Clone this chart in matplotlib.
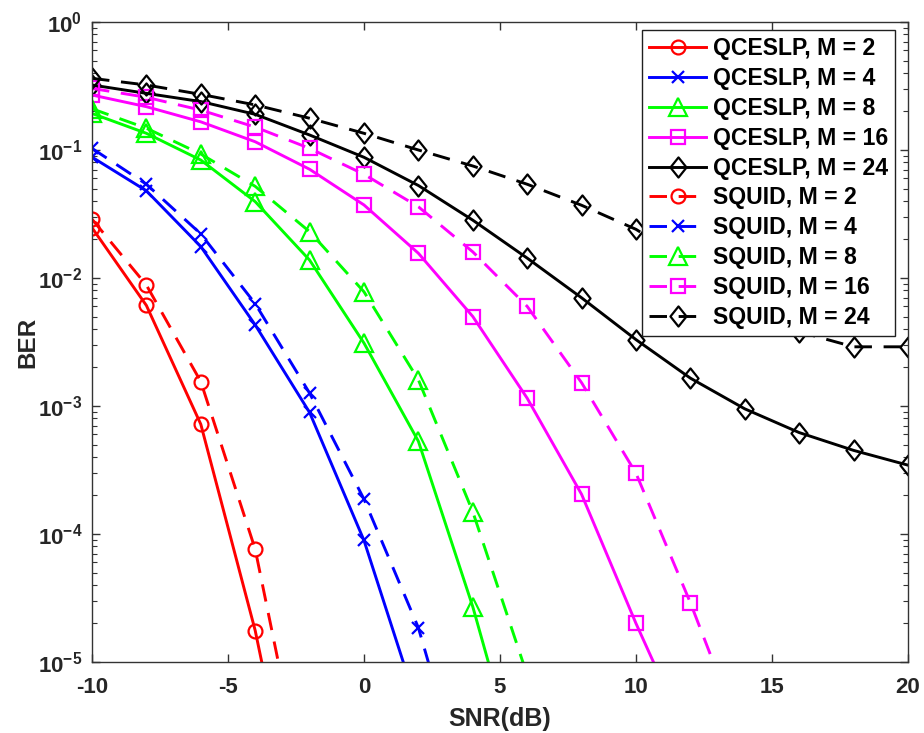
import numpy as np
import matplotlib
matplotlib.use('Agg')
import matplotlib.pyplot as plt
from matplotlib.path import Path

plt.rcParams['font.family'] = 'Liberation Sans'
plt.rcParams['font.weight'] = 'bold'
plt.rcParams['mathtext.fontset'] = 'custom'
plt.rcParams['mathtext.bf'] = 'Liberation Sans:bold'
plt.rcParams['mathtext.rm'] = 'Liberation Sans:bold'
plt.rcParams['axes.unicode_minus'] = False

# SNR grid (dB)
snr = np.arange(-10, 21, 2)

# BER of QCESLP (solid)
qc_m2 = [0.0247, 0.0061, 7.2e-4, 1.76e-5, 1.6e-7]
qc_m4 = [0.088, 0.048, 0.0176, 0.0043, 8.9e-4, 8.9e-5, 4.3e-6]
qc_m8 = [0.193, 0.135, 0.0835, 0.0395, 0.0138, 0.0031, 5.3e-4, 2.7e-5, 8.3e-7]
qc_m16 = [0.269, 0.218, 0.166, 0.116, 0.0707, 0.0372, 0.0156, 0.005, 0.00115,
          2.04e-4, 2.0e-5, 2.3e-6]
qc_m24 = [0.322, 0.277, 0.239, 0.19, 0.131, 0.0877, 0.0528, 0.0283, 0.0143,
          0.0070, 0.0033, 0.00165, 9.5e-4, 6.2e-4, 4.5e-4, 3.45e-4]

# BER of SQUID (dashed)
sq_m2 = [0.0288, 0.0088, 0.00155, 7.6e-5, 6.4e-7]
sq_m4 = [0.103, 0.054, 0.0221, 0.0063, 1.26e-3, 1.87e-4, 1.85e-5, 6.3e-7]
sq_m8 = [0.21, 0.148, 0.093, 0.052, 0.023, 0.0078, 0.0016, 1.49e-4, 7.9e-6]
sq_m16 = [0.303, 0.258, 0.205, 0.151, 0.103, 0.0646, 0.036, 0.016, 0.006,
          0.00152, 2.98e-4, 2.9e-5, 2.3e-6]
sq_m24 = [0.363, 0.322, 0.272, 0.225, 0.177, 0.135, 0.1, 0.075, 0.054, 0.037,
          0.024, 0.013, 0.0068, 0.0038, 0.0029, 0.0029]

orders = [2, 4, 8, 16, 24]
colors = ['#ff0000', '#0000ff', '#00ff00', '#ff00ff', '#000000']

diamond = Path([(0, 1), (0.8, 0), (0, -1), (-0.8, 0), (0, 1)],
               [Path.MOVETO, Path.LINETO, Path.LINETO, Path.LINETO, Path.CLOSEPOLY])
markers = ['o', 'x', '^', 's', diamond]
msizes = [10, 9, 12.5, 9.5, 14.5]

fig = plt.figure(figsize=(9.24, 7.33), dpi=100)
ax = fig.add_axes([92 / 924, 71 / 733, 816 / 924, 640 / 733])

for data, ls, name in [([qc_m2, qc_m4, qc_m8, qc_m16, qc_m24], '-', 'QCESLP'),
                       ([sq_m2, sq_m4, sq_m8, sq_m16, sq_m24], '--', 'SQUID')]:
    for vals, m, c, mk, ms in zip(data, orders, colors, markers, msizes):
        ax.semilogy(snr[:len(vals)], vals, linestyle=ls, color=c, marker=mk,
                    markersize=ms, markerfacecolor='none', markeredgewidth=1.6,
                    linewidth=2.1, dashes=(6, 4) if ls == '--' else (None, None),
                    label=f'{name}, M = {m}')

ax.set_xlim(-10, 20)
ax.set_ylim(1e-5, 1)
ax.set_xticks(np.arange(-10, 21, 5))
ax.set_xticklabels([str(v) for v in range(-10, 21, 5)])
yt = [1e-5, 1e-4, 1e-3, 1e-2, 1e-1, 1e0]
ax.set_yticks(yt)
ax.set_yticklabels([r'$\mathbf{10^{%d}}$' % p for p in range(-5, 1)])

ax.tick_params(which='both', direction='in', top=True, right=True,
               color='#333333', labelcolor='#262626')
ax.tick_params(axis='x', labelsize=16, pad=11)
ax.tick_params(axis='y', labelsize=16, pad=7)
ax.tick_params(which='major', length=6, width=1)
ax.tick_params(which='minor', length=3.5, width=0.8)
for sp in ax.spines.values():
    sp.set_color('#333333')
    sp.set_linewidth(1.0)

ax.set_xlabel('SNR(dB)', fontsize=18, fontweight='bold', labelpad=6,
              color='#262626')
ax.set_ylabel('BER', fontsize=17.5, fontweight='bold', labelpad=-1,
              color='#262626')

leg = ax.legend(loc='upper right', bbox_to_anchor=(0.984, 0.9875),
                fontsize=16.6, frameon=True, fancybox=False, framealpha=1,
                edgecolor='#202020', labelspacing=0.3, handlelength=2.45,
                handletextpad=0.3, borderpad=0.3, borderaxespad=0)
leg.get_frame().set_linewidth(1.0)

fig.savefig('out.png', dpi=100)
